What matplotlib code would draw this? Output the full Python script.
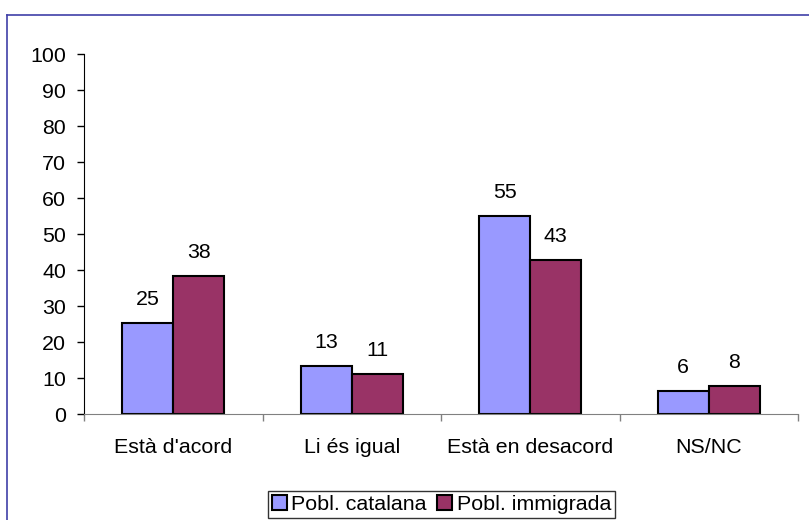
import matplotlib
matplotlib.use('Agg')
import matplotlib.pyplot as plt
from matplotlib.lines import Line2D
import numpy as np

# Data (percentages)
categories = ["Està d'acord", "Li és igual", "Està en desacord", "NS/NC"]
catalana = [25.2, 13.3, 55.0, 6.4]
immigrada = [38.3, 11.2, 42.7, 7.8]
series_names = ['Pobl. catalana', 'Pobl. immigrada']
y_ticks = list(range(0, 101, 10))

BLUE = '#9999ff'
PURPLE = '#993366'
FS = 15.4

plt.rcParams['font.family'] = ['Liberation Sans', 'DejaVu Sans']

W, H = 809, 520
fig = plt.figure(figsize=(W / 100, H / 100), dpi=100)

# Outer chart frame (only top and left edges are visible)
fig.add_artist(Line2D([7 / W, 7 / W], [0, 1 - 15 / H], color='#4040a8', lw=1.2,
                      transform=fig.transFigure))
fig.add_artist(Line2D([7 / W, 1], [1 - 15 / H, 1 - 15 / H], color='#4040a8', lw=1.2,
                      transform=fig.transFigure))

ax = fig.add_axes([84 / W, (H - 414) / H, (798 - 84) / W, (414 - 54) / H])

x = np.arange(len(categories))
bw = 0.285
bars1 = ax.bar(x - bw / 2, catalana, bw, color=BLUE, edgecolor='black', linewidth=1.5,
               label=series_names[0])
bars2 = ax.bar(x + bw / 2, immigrada, bw, color=PURPLE, edgecolor='black', linewidth=1.5,
               label=series_names[1])

for bars, vals in ((bars1, catalana), (bars2, immigrada)):
    for b, v in zip(bars, vals):
        ax.annotate('%d' % round(v), (b.get_x() + b.get_width() / 2, v),
                    xytext=(0, 10), textcoords='offset points',
                    ha='center', va='bottom', fontsize=FS)

ax.set_xlim(-0.5, len(categories) - 0.5)
ax.set_ylim(0, 100)
ax.set_yticks(y_ticks)
ax.tick_params(axis='y', direction='out', length=5, width=1, pad=8, labelsize=FS, colors='black')

# Major x ticks at category boundaries, labels on minor ticks
ax.set_xticks(np.arange(-0.5, len(categories), 1.0))
ax.set_xticklabels([])
ax.set_xticks(x, minor=True)
ax.set_xticklabels(categories, minor=True, fontsize=FS)
ax.tick_params(axis='x', which='major', direction='out', length=5, width=1, color='#808080')
ax.tick_params(axis='x', which='minor', length=0, pad=17)

for s in ('top', 'right'):
    ax.spines[s].set_visible(False)
ax.spines['left'].set_color('black')
ax.spines['bottom'].set_color('#808080')

leg = fig.legend(handles=[bars1, bars2], labels=series_names, loc='center',
                 bbox_to_anchor=(441.5 / W, 1 - 504.5 / H), ncol=2, fontsize=FS,
                 frameon=True, fancybox=False, edgecolor='black', handlelength=0.7,
                 handleheight=0.7, handletextpad=0.2, columnspacing=0.5,
                 borderpad=0.2, borderaxespad=0)
leg.get_frame().set_linewidth(1)

fig.savefig('out.png', dpi=100)
